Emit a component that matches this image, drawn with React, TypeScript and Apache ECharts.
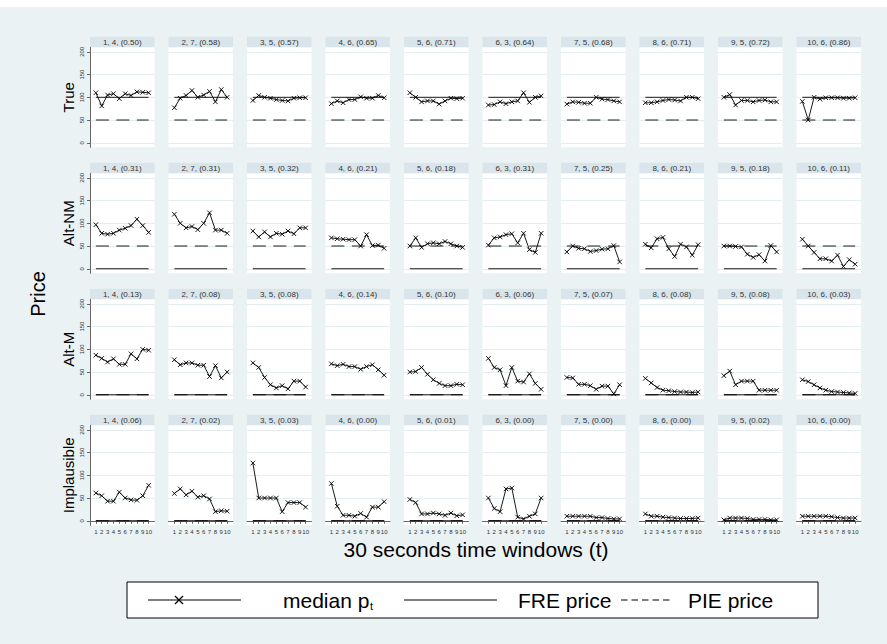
import { useEffect, useRef } from 'react';
import * as echarts from 'echarts';

const timeWindows = [1, 2, 3, 4, 5, 6, 7, 8, 9, 10];
const yTicks = [0, 50, 100, 150, 200];
const sessionIds = ['1, 4', '2, 7', '3, 5', '4, 6', '5, 6', '6, 3', '7, 5', '8, 6', '9, 5', '10, 6'];
const rowNames = ['True', 'Alt-NM', 'Alt-M', 'Implausible'];

const shareTrue = ['0.50', '0.58', '0.57', '0.65', '0.71', '0.64', '0.68', '0.71', '0.72', '0.86'];
const shareAltNM = ['0.31', '0.31', '0.32', '0.21', '0.18', '0.31', '0.25', '0.21', '0.18', '0.11'];
const shareAltM = ['0.13', '0.08', '0.08', '0.14', '0.10', '0.06', '0.07', '0.08', '0.08', '0.03'];
const shareImpl = ['0.06', '0.02', '0.03', '0.00', '0.01', '0.00', '0.00', '0.00', '0.02', '0.00'];

const medianTrue = [
  [110, 81, 105, 108, 97, 108, 104, 112, 111, 110],
  [77, 98, 104, 115, 100, 105, 113, 90, 117, 100],
  [93, 104, 100, 98, 95, 93, 92, 98, 99, 99],
  [86, 92, 88, 95, 95, 101, 98, 98, 104, 99],
  [110, 100, 90, 92, 92, 85, 92, 98, 97, 98],
  [83, 84, 90, 86, 90, 92, 110, 89, 100, 103],
  [85, 90, 89, 87, 87, 100, 96, 95, 92, 90],
  [88, 88, 90, 93, 95, 94, 92, 100, 100, 97],
  [100, 106, 83, 93, 93, 90, 93, 94, 90, 90],
  [91, 50, 100, 96, 99, 99, 99, 98, 98, 99],
];
const medianAltNM = [
  [97, 78, 76, 78, 85, 89, 95, 109, 95, 80],
  [120, 100, 90, 93, 86, 100, 123, 85, 85, 78],
  [83, 70, 81, 70, 78, 76, 83, 77, 90, 90],
  [68, 66, 65, 64, 64, 50, 75, 51, 52, 45],
  [50, 68, 47, 55, 57, 55, 60, 55, 50, 47],
  [52, 68, 70, 75, 77, 57, 78, 42, 36, 78],
  [37, 50, 45, 44, 38, 40, 43, 44, 51, 15],
  [54, 46, 66, 69, 44, 27, 54, 48, 30, 53],
  [50, 50, 49, 48, 32, 25, 31, 17, 51, 37],
  [65, 50, 36, 22, 22, 17, 30, 5, 20, 10],
];
const medianAltM = [
  [87, 80, 72, 79, 67, 67, 90, 79, 100, 98],
  [77, 66, 70, 70, 65, 65, 40, 64, 37, 50],
  [70, 60, 38, 22, 15, 20, 13, 30, 30, 17],
  [68, 64, 67, 62, 62, 56, 62, 66, 55, 43],
  [50, 51, 60, 45, 33, 25, 20, 20, 23, 22],
  [80, 60, 55, 20, 60, 30, 28, 46, 25, 12],
  [38, 37, 23, 23, 20, 12, 19, 19, 2, 22],
  [36, 26, 16, 10, 9, 7, 6, 6, 5, 6],
  [42, 52, 22, 30, 30, 30, 10, 10, 10, 10],
  [33, 29, 22, 15, 10, 7, 6, 5, 4, 3],
];
const medianImpl = [
  [61, 55, 43, 43, 63, 50, 46, 45, 55, 78],
  [60, 70, 57, 65, 52, 55, 48, 20, 22, 21],
  [127, 50, 50, 50, 50, 20, 40, 40, 40, 30],
  [82, 32, 12, 12, 10, 16, 8, 30, 30, 42],
  [47, 40, 15, 15, 17, 15, 12, 17, 11, 13],
  [50, 27, 20, 70, 72, 8, 4, 10, 15, 50],
  [10, 10, 10, 10, 10, 7, 7, 5, 4, 4],
  [15, 10, 10, 8, 7, 6, 5, 5, 5, 6],
  [2, 6, 6, 6, 5, 3, 3, 3, 2, 2],
  [10, 10, 10, 10, 10, 9, 7, 6, 6, 6],
];

const frePrice = [100, 0, 0, 0];
const piePrice = [50, 50, 0, 0];
const legendLabels = ['median p', 't', 'FRE price', 'PIE price'];
const xTitle = '30 seconds time windows (t)';
const yTitle = 'Price';

const FONT = 'Liberation Sans, Arial, Helvetica, sans-serif';
const BG = '#eaf2f3';
const STRIP = '#d9e5ea';
const X_SYMBOL = 'path://M0,0L10,10M10,0L0,10';

function buildOption() {
  const medians = [medianTrue, medianAltNM, medianAltM, medianImpl];
  const shares = [shareTrue, shareAltNM, shareAltM, shareImpl];
  const L0 = 90, CW = 78.5, PW = 64.5, T0 = 47.3, RH = 126, PH = 100, HH = 10.5;

  const grid: any[] = [];
  const xAxis: any[] = [];
  const yAxis: any[] = [];
  const series: any[] = [];
  const graphic: any[] = [];

  graphic.push({ type: 'rect', shape: { x: 0, y: 0, width: 887, height: 7 }, style: { fill: '#ffffff' }, silent: true });

  for (let r = 0; r < 4; r++) {
    for (let c = 0; c < 10; c++) {
      const idx = r * 10 + c;
      const left = L0 + CW * c;
      const top = T0 + RH * r;
      grid.push({ left, top, width: PW, height: PH, show: true, backgroundColor: '#ffffff', borderWidth: 0 });
      xAxis.push({
        type: 'value', gridIndex: idx, min: 0, max: 11,
        axisLine: { show: r === 3, lineStyle: { color: '#666', width: 1 } },
        axisTick: { show: r === 3, customValues: timeWindows, length: 3, lineStyle: { color: '#666' } },
        axisLabel: { show: r === 3, customValues: timeWindows, fontSize: 6, margin: 4, color: '#333', fontFamily: FONT },
        splitLine: { show: false },
      });
      yAxis.push({
        type: 'value', gridIndex: idx, min: -10, max: 210,
        axisLine: { show: c === 0, lineStyle: { color: '#666', width: 1 } },
        axisTick: { show: c === 0, customValues: yTicks, length: 3, lineStyle: { color: '#666' } },
        axisLabel: { show: c === 0, customValues: yTicks, rotate: 90, fontSize: 6, margin: 5, color: '#333', fontFamily: FONT },
        splitLine: { show: true, lineStyle: { color: '#e4edf0', width: 1 } },
      });
      const med = medians[r][c];
      series.push({
        type: 'line', xAxisIndex: idx, yAxisIndex: idx, z: 5, silent: true,
        data: timeWindows.map((t, i) => [t, med[i]]),
        symbol: X_SYMBOL, symbolSize: 4.5, showSymbol: true,
        lineStyle: { color: '#000', width: 0.9 },
        itemStyle: { color: 'none', borderColor: '#000', borderWidth: 0.9 },
      });
      series.push({
        type: 'line', xAxisIndex: idx, yAxisIndex: idx, z: 3, silent: true,
        data: [[timeWindows[0], frePrice[r]], [timeWindows[timeWindows.length - 1], frePrice[r]]],
        symbol: 'none', lineStyle: { color: '#000', width: 0.9 },
      });
      series.push({
        type: 'line', xAxisIndex: idx, yAxisIndex: idx, z: 3, silent: true,
        data: [[timeWindows[0], piePrice[r]], [timeWindows[timeWindows.length - 1], piePrice[r]]],
        symbol: 'none', lineStyle: { color: '#000', width: 0.9, type: [13, 7.5] },
      });
      graphic.push({ type: 'rect', shape: { x: left, y: top - HH, width: PW, height: HH }, style: { fill: STRIP }, silent: true });
      graphic.push({
        type: 'text', x: left + PW / 2, y: top - HH / 2 + 0.5,
        style: { text: `${sessionIds[c]}, (${shares[r][c]})`, fontSize: 8, fontFamily: FONT, fill: '#333', align: 'center', verticalAlign: 'middle' },
        silent: true,
      });
    }
    graphic.push({
      type: 'text', x: 68, y: T0 + RH * r + PH / 2, rotation: Math.PI / 2,
      style: { text: rowNames[r], fontSize: 15, fontFamily: FONT, fill: '#000', align: 'center', verticalAlign: 'middle' },
      silent: true,
    });
  }

  graphic.push({
    type: 'text', x: 38, y: 294, rotation: Math.PI / 2,
    style: { text: yTitle, fontSize: 20, fontFamily: FONT, fill: '#000', align: 'center', verticalAlign: 'middle' },
    silent: true,
  });
  graphic.push({
    type: 'text', x: 476, y: 549,
    style: { text: xTitle, fontSize: 21, fontFamily: FONT, fill: '#000', align: 'center', verticalAlign: 'middle' },
    silent: true,
  });

  // legend
  const ly = 600;
  const lf = 21;
  graphic.push({ type: 'rect', shape: { x: 127, y: 582, width: 691, height: 36 }, style: { fill: '#fff', stroke: '#000', lineWidth: 1 }, silent: true });
  graphic.push({ type: 'line', shape: { x1: 148, y1: ly, x2: 241, y2: ly }, style: { stroke: '#000', lineWidth: 1.2 }, silent: true });
  graphic.push({ type: 'line', shape: { x1: 175, y1: ly - 4, x2: 183, y2: ly + 4 }, style: { stroke: '#000', lineWidth: 1.2 }, silent: true });
  graphic.push({ type: 'line', shape: { x1: 183, y1: ly - 4, x2: 175, y2: ly + 4 }, style: { stroke: '#000', lineWidth: 1.2 }, silent: true });
  graphic.push({ type: 'text', x: 283, y: ly, style: { text: legendLabels[0], fontSize: lf, fontFamily: FONT, fill: '#000', align: 'left', verticalAlign: 'middle' }, silent: true });
  graphic.push({ type: 'text', x: 370, y: ly + 6, style: { text: legendLabels[1], fontSize: 11, fontFamily: FONT, fill: '#000', align: 'left', verticalAlign: 'middle' }, silent: true });
  graphic.push({ type: 'line', shape: { x1: 404, y1: ly, x2: 497, y2: ly }, style: { stroke: '#000', lineWidth: 1.2 }, silent: true });
  graphic.push({ type: 'text', x: 518, y: ly, style: { text: legendLabels[2], fontSize: lf, fontFamily: FONT, fill: '#000', align: 'left', verticalAlign: 'middle' }, silent: true });
  graphic.push({ type: 'line', shape: { x1: 621, y1: ly, x2: 670, y2: ly }, style: { stroke: '#000', lineWidth: 1.2, lineDash: [6.5, 4] }, silent: true });
  graphic.push({ type: 'text', x: 688, y: ly, style: { text: legendLabels[3], fontSize: lf, fontFamily: FONT, fill: '#000', align: 'left', verticalAlign: 'middle' }, silent: true });

  return {
    animation: false,
    backgroundColor: BG,
    textStyle: { fontFamily: FONT },
    grid, xAxis, yAxis, series, graphic,
  };
}

export default function App() {
  const ref = useRef<HTMLDivElement>(null);
  useEffect(() => {
    if (!ref.current) return;
    const chart = echarts.init(ref.current, null, { renderer: 'svg' });
    chart.setOption(buildOption() as any);
    return () => chart.dispose();
  }, []);
  return <div ref={ref} style={{ position: 'fixed', left: 0, top: 0, width: 887, height: 644 }} />;
}
